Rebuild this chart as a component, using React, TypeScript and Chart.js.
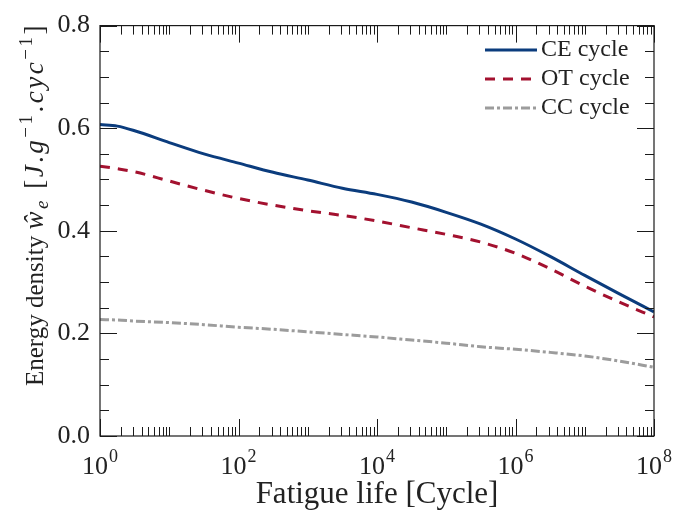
import React, { useEffect, useRef } from 'react';
import { Chart, registerables } from 'chart.js';

Chart.register(...registerables);

// Fatigue life given as exponents of ten (10^e cycles)
const lifeExponents = [0, 0.25, 0.5, 1, 1.5, 2, 2.5, 3, 3.5, 4, 4.5, 5, 5.5, 6, 6.5, 7, 7.5, 8];
const ceCycle = [0.607, 0.604, 0.595, 0.572, 0.550, 0.532, 0.514, 0.499, 0.483, 0.471, 0.456, 0.436, 0.413, 0.384, 0.350, 0.313, 0.277, 0.242];
const otCycle = [0.526, 0.521, 0.515, 0.497, 0.479, 0.463, 0.450, 0.439, 0.430, 0.419, 0.406, 0.393, 0.378, 0.356, 0.326, 0.292, 0.261, 0.232];
const ccCycle = [0.227, 0.226, 0.224, 0.221, 0.217, 0.212, 0.208, 0.203, 0.198, 0.193, 0.187, 0.181, 0.174, 0.169, 0.163, 0.156, 0.146, 0.134];

const seriesLabels = ['CE cycle', 'OT cycle', 'CC cycle'];
const seriesColors = ['#0b3c7d', '#a3112f', '#9c9c9c'];
const seriesDashes: number[][] = [[], [10, 8], [9, 3, 3, 3]];
const xMajorExponents = [0, 2, 4, 6, 8];
const yTickValues = [0, 0.2, 0.4, 0.6, 0.8];

const FONT = '"Liberation Serif", "DejaVu Serif", serif';

const decorPlugin = {
  id: 'decor',
  afterDatasetsDraw(chart: any) {
    const ctx = chart.ctx as CanvasRenderingContext2D;
    const { left, right, top, bottom } = chart.chartArea;
    const xs = chart.scales.x;
    const ys = chart.scales.y;
    ctx.save();
    ctx.strokeStyle = '#1a1a1a';
    ctx.lineWidth = 1.2;
    // frame
    ctx.strokeRect(left, top, right - left, bottom - top);
    ctx.lineWidth = 1;
    // x ticks (inward, bottom and top)
    for (let k = 0; k <= 8; k++) {
      for (let m = 1; m <= 9; m++) {
        const v = m * Math.pow(10, k);
        if (v > 1e8) break;
        const px = Math.round(xs.getPixelForValue(v)) + 0.5;
        const major = m === 1 && k % 2 === 0;
        const len = major ? 17 : 9;
        ctx.beginPath();
        ctx.moveTo(px, bottom);
        ctx.lineTo(px, bottom - len);
        ctx.moveTo(px, top);
        ctx.lineTo(px, top + len);
        ctx.stroke();
      }
    }
    // y ticks
    for (let i = 0; i <= 16; i++) {
      const v = i * 0.05;
      const py = Math.round(ys.getPixelForValue(v)) + 0.5;
      const len = i % 4 === 0 ? 17 : 9;
      ctx.beginPath();
      ctx.moveTo(left, py);
      ctx.lineTo(left + len, py);
      ctx.moveTo(right, py);
      ctx.lineTo(right - len, py);
      ctx.stroke();
    }
    // x tick labels 10^k
    ctx.fillStyle = '#222';
    ctx.textBaseline = 'alphabetic';
    ctx.textAlign = 'left';
    for (const e of xMajorExponents) {
      const px = xs.getPixelForValue(Math.pow(10, e));
      ctx.font = `26px ${FONT}`;
      const wb = ctx.measureText('10').width;
      ctx.font = `18px ${FONT}`;
      const we = ctx.measureText(String(e)).width;
      const x0 = px - (wb + we + 1) / 2;
      ctx.font = `26px ${FONT}`;
      ctx.fillText('10', x0, 474);
      ctx.font = `18px ${FONT}`;
      ctx.fillText(String(e), x0 + wb + 1, 462);
    }
    // legend
    const rows = [50, 79, 108];
    seriesLabels.forEach((lab, i) => {
      ctx.strokeStyle = seriesColors[i];
      ctx.lineWidth = 3;
      ctx.setLineDash(seriesDashes[i]);
      ctx.beginPath();
      ctx.moveTo(485, rows[i]);
      ctx.lineTo(537, rows[i]);
      ctx.stroke();
      ctx.setLineDash([]);
      ctx.fillStyle = '#222';
      ctx.font = `24px ${FONT}`;
      ctx.textBaseline = 'middle';
      ctx.fillText(lab, 541, rows[i]);
    });
    // y axis title (rich text, rotated)
    const segs: { t: string; it?: boolean; s: number; dy: number; gap: number }[] = [
      { t: 'Energy density ', s: 25, dy: 0, gap: 0 },
      { t: 'ŵ', it: true, s: 27, dy: 0, gap: 2.5 },
      { t: 'e', it: true, s: 19, dy: 5, gap: 2.5 },
      { t: ' [', s: 27, dy: 0, gap: 2.5 },
      { t: 'J', it: true, s: 27, dy: 0, gap: 2.5 },
      { t: '.', s: 27, dy: 0, gap: 2.5 },
      { t: 'g', it: true, s: 27, dy: 0, gap: 2.5 },
      { t: '−1', s: 19, dy: -11, gap: 2.5 },
      { t: '.', s: 27, dy: 0, gap: 2.5 },
      { t: 'cyc', it: true, s: 27, dy: 0, gap: 2.5 },
      { t: '−1', s: 19, dy: -11, gap: 2.5 },
      { t: ']', s: 27, dy: 0, gap: 0 },
    ];
    ctx.save();
    ctx.translate(43, 386);
    ctx.rotate(-Math.PI / 2);
    ctx.textBaseline = 'alphabetic';
    ctx.textAlign = 'left';
    ctx.fillStyle = '#222';
    let cx = 0;
    for (const sg of segs) {
      ctx.font = `${sg.it ? 'italic ' : ''}${sg.s}px ${FONT}`;
      if (sg.gap === 0) {
        ctx.fillText(sg.t, cx, sg.dy);
        cx += ctx.measureText(sg.t).width;
      } else {
        for (const ch of Array.from(sg.t)) {
          ctx.fillText(ch, cx, sg.dy);
          cx += ctx.measureText(ch).width + sg.gap;
        }
      }
    }
    ctx.restore();
    ctx.restore();
  },
};

export default function App() {
  const ref = useRef<HTMLCanvasElement | null>(null);
  useEffect(() => {
    document.body.style.margin = '0';
    if (!ref.current) return;
    const datasets = [ceCycle, otCycle, ccCycle].map((vals, i) => ({
      label: seriesLabels[i],
      data: lifeExponents.map((e, j) => ({ x: Math.pow(10, e), y: vals[j] })),
      borderColor: seriesColors[i],
      backgroundColor: seriesColors[i],
      borderWidth: 3,
      borderDash: seriesDashes[i],
      pointRadius: 0,
      fill: false,
      cubicInterpolationMode: 'monotone' as const,
    }));
    const chart = new Chart(ref.current, {
      type: 'line',
      data: { datasets },
      options: {
        responsive: false,
        animation: false,
        layout: { padding: { top: 20, right: 34, left: 0, bottom: 0 } },
        plugins: { legend: { display: false }, tooltip: { enabled: false } },
        scales: {
          x: {
            type: 'logarithmic',
            min: 1,
            max: 1e8,
            grid: { display: false },
            border: { display: false },
            ticks: { display: false },
            title: {
              display: true,
              text: 'Fatigue life [Cycle]',
              color: '#222',
              font: { family: FONT, size: 31 },
              padding: { top: 0, bottom: 2 },
            },
            afterFit: (s: any) => {
              s.height = 79;
            },
          },
          y: {
            type: 'linear',
            min: 0,
            max: 0.8,
            grid: { display: false, drawTicks: false },
            border: { display: false },
            afterBuildTicks: (s: any) => {
              s.ticks = yTickValues.map((v) => ({ value: v }));
            },
            ticks: {
              padding: 10,
              color: '#222',
              font: { family: FONT, size: 26 },
              callback: (v: any) => Number(v).toFixed(1),
            },
            afterFit: (s: any) => {
              s.width = 100;
            },
          },
        },
      },
      plugins: [decorPlugin],
    });
    return () => chart.destroy();
  }, []);
  return (
    <canvas ref={ref} width={688} height={515} style={{ display: 'block' }} />
  );
}
